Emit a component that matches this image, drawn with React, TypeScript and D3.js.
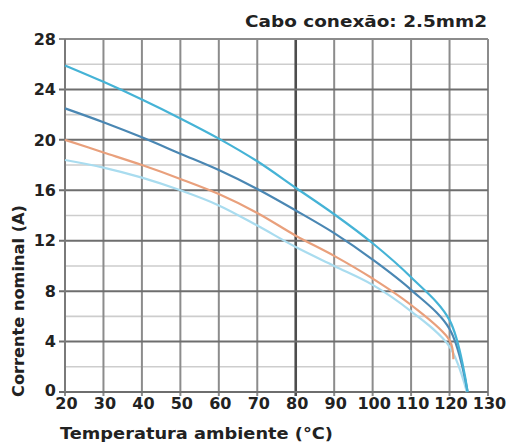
import { useMemo } from 'react';
import * as d3 from 'd3';

// Derating curves, cable 2.5mm2
const temps = [20, 30, 40, 50, 60, 70, 80, 90, 100, 110, 120];
const curveTop = [25.9, 24.6, 23.2, 21.7, 20.1, 18.3, 16.2, 14.1, 11.8, 9.1, 5.7];
const curveDark = [22.5, 21.4, 20.2, 18.9, 17.6, 16.1, 14.4, 12.6, 10.5, 8.1, 5.0];
const curveOrange = [20.0, 19.0, 18.0, 16.9, 15.7, 14.2, 12.4, 10.8, 9.0, 6.9, 4.1];
const curveLight = [18.4, 17.8, 17.0, 16.0, 14.8, 13.2, 11.5, 10.0, 8.5, 6.4, 3.6];

// where each curve ends (temperature, current)
const endTop = [124.7, 0];
const endDark = [124.7, 0];
const endOrange = [121, 2.6];
const endLight = [124.5, 0];

const xTicks = [20, 30, 40, 50, 60, 70, 80, 90, 100, 110, 120, 130];
const yMajor = [0, 4, 8, 12, 16, 20, 24, 28];
const yMinor = [2, 6, 10, 14, 18, 22, 26];

const titleText = 'Cabo conexão: 2.5mm2';
const xTitle = 'Temperatura ambiente (°C)';
const yTitle = 'Corrente nominal (A)';

const W = 508;
const H = 447;
const FONT = '"DejaVu Sans", sans-serif';

type Pt = [number, number];

function build(vals: number[], end: number[]): Pt[] {
  const pts: Pt[] = temps.map((t, i) => [t, vals[i]]);
  pts.push([end[0], end[1]]);
  return pts;
}

export default function App() {
  const margin = { top: 39, right: 20, bottom: 55, left: 65 };

  const x = d3.scaleLinear().domain([20, 130]).range([margin.left, W - margin.right]);
  const y = d3.scaleLinear().domain([0, 28]).range([H - margin.bottom, margin.top]);

  const line = d3
    .line<Pt>()
    .x((d) => x(d[0]))
    .y((d) => y(d[1]))
    .curve(d3.curveCatmullRom.alpha(0.5));

  const series = useMemo(
    () => [
      { pts: build(curveLight, endLight), color: '#a9dcef' },
      { pts: build(curveOrange, endOrange), color: '#e9a07c' },
      { pts: build(curveDark, endDark), color: '#4a87b3' },
      { pts: build(curveTop, endTop), color: '#45b3d6' },
    ],
    []
  );

  const x0 = x(20);
  const x1 = x(130);
  const y0 = y(0);
  const y1 = y(28);

  return (
    <svg
      width={W}
      height={H}
      style={{ position: 'absolute', left: 0, top: 0, background: '#fff' }}
    >
      {/* minor horizontal grid */}
      {yMinor.map((v) => (
        <line key={'mn' + v} x1={x0} x2={x1} y1={y(v)} y2={y(v)} stroke="#cdcdcd" strokeWidth={1.6} />
      ))}
      {/* vertical grid */}
      {xTicks.map((t) => (
        <line
          key={'v' + t}
          x1={x(t)}
          x2={x(t)}
          y1={y1}
          y2={y0 + 4}
          stroke={t === 80 ? '#4d4d4d' : '#8c8c8c'}
          strokeWidth={t === 80 ? 2.6 : 2}
        />
      ))}
      {/* major horizontal grid with left ticks */}
      {yMajor.map((v) => (
        <line
          key={'mj' + v}
          x1={x0 - 6}
          x2={x1}
          y1={y(v)}
          y2={y(v)}
          stroke={v === 28 ? '#8c8c8c' : '#6e6e6e'}
          strokeWidth={2}
        />
      ))}
      <line x1={x0} x2={x0} y1={y1} y2={y0} stroke="#7a7a7a" strokeWidth={2} />

      {/* curves */}
      {series.map((s, i) => (
        <path key={i} d={line(s.pts) ?? ''} fill="none" stroke={s.color} strokeWidth={2.2} />
      ))}

      {/* y tick labels */}
      {yMajor.map((v) => (
        <text
          key={'yl' + v}
          x={x0 - 9}
          y={y(v) - (v === 0 ? 2 : 0)}
          dy="0.36em"
          textAnchor="end"
          fontFamily={FONT}
          fontWeight="bold"
          fontSize={16}
          fill="#222"
        >
          {v}
        </text>
      ))}
      {/* x tick labels */}
      {xTicks.map((t) => (
        <text
          key={'xl' + t}
          x={x(t) + 1.5}
          y={409}
          textAnchor="middle"
          fontFamily={FONT}
          fontWeight="bold"
          fontSize={16}
          fill="#222"
        >
          {t}
        </text>
      ))}

      {/* titles */}
      <text
        x={245}
        y={27}
        textLength={242}
        lengthAdjust="spacingAndGlyphs"
        fontFamily={FONT}
        fontWeight="bold"
        fontSize={16.5}
        fill="#222"
      >
        {titleText}
      </text>
      <text
        x={60}
        y={439}
        textLength={273}
        lengthAdjust="spacingAndGlyphs"
        fontFamily={FONT}
        fontWeight="bold"
        fontSize={15}
        fill="#222"
      >
        {xTitle}
      </text>
      <text
        transform="translate(24,397) rotate(-90)"
        x={0}
        y={0}
        textLength={192}
        lengthAdjust="spacingAndGlyphs"
        fontFamily={FONT}
        fontWeight="bold"
        fontSize={15}
        fill="#222"
      >
        {yTitle}
      </text>
    </svg>
  );
}
